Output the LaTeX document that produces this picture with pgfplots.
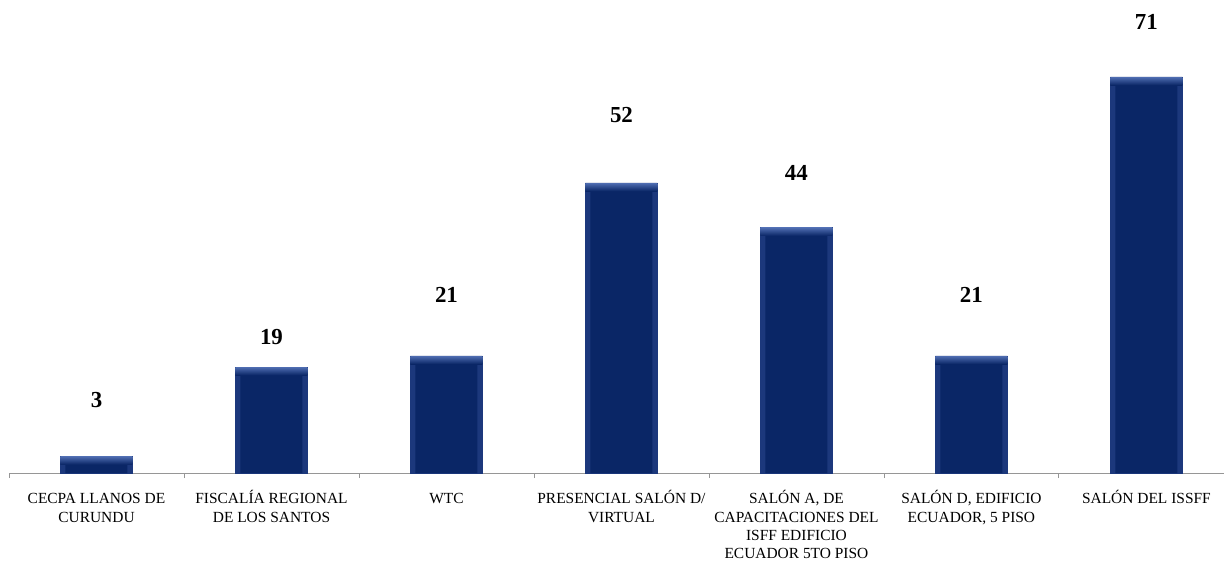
\documentclass[border=0pt]{standalone}
\usepackage{pgfplots}
\pgfplotsset{compat=1.18}
\usepackage{pgfplotstable}
\usepackage{fontspec}
\setmainfont{Liberation Serif}
\definecolor{barnavy}{RGB}{10,38,102}
\definecolor{bevtop}{RGB}{78,108,176}
\definecolor{bevside}{RGB}{28,56,124}
\definecolor{axgray}{RGB}{150,150,150}

% x = category, v = value, ly = where its label sits
\pgfplotstableread{
x v ly
0 3 13.1
1 19 24.4
2 21 31.9
3 52 64.2
4 44 53.8
5 21 31.9
6 71 80.8
}\sala

\begin{document}
\begin{tikzpicture}
\begin{axis}[
  at={(9bp,92bp)}, anchor=south west,
  scale only axis,
  width=1225bp, height=473bp,
  xmin=-0.5, xmax=6.5,
  ymin=0, ymax=84.8,
  axis x line=bottom, axis y line=none,
  axis line style={axgray, line width=0.9pt, -},
  xtick=data,
  xticklabels={
    {\vphantom{Ó}CECPA LLANOS DE\\CURUNDU},
    {FISCALÍA REGIONAL\\DE LOS SANTOS},
    {\vphantom{Ó}WTC},
    {PRESENCIAL SALÓN D/\\VIRTUAL},
    {SALÓN A, DE\\CAPACITACIONES DEL\\ISFF EDIFICIO\\ECUADOR 5TO PISO},
    {SALÓN D, EDIFICIO\\ECUADOR, 5 PISO},
    {SALÓN DEL ISSFF}},
  major tick length=0pt,
  minor xtick={-0.5,0.5,...,5.5},
  minor tick length=5bp,
  minor tick style={axgray, line width=0.9pt},
  xtick align=outside,
  xticklabel style={font=\fontsize{15.5}{18.3}\selectfont, align=center, anchor=north, yshift=-14bp},
  ytick=\empty,
  clip=false,
]
% outer bar: side bevel colour, with a shaded top band
\addplot[ybar, bar width=72bp, fill=bevside, draw=bevside, line width=0.3pt,
  nodes near coords={}, every node near coord/.style={anchor=north, inner sep=0pt,
    minimum width=72bp, minimum height=8bp, top color=bevtop, bottom color=barnavy, draw=none}]
  table[x=x, y=v] {\sala};
% inner face of the bar
\addplot[ybar, bar width=62bp, fill=barnavy, draw=none]
  table[x=x, y expr=\thisrow{v}-1.43] {\sala};
\addplot[draw=none, mark=none, nodes near coords, point meta=explicit symbolic,
  nodes near coords style={anchor=center, font=\fontsize{23}{26}\selectfont\bfseries, text=black}]
  table[x=x, y=ly, meta=v] {\sala};
\end{axis}
\pgfresetboundingbox
\useasboundingbox (0,0) rectangle (1224bp,565bp);
\end{tikzpicture}
\end{document}
